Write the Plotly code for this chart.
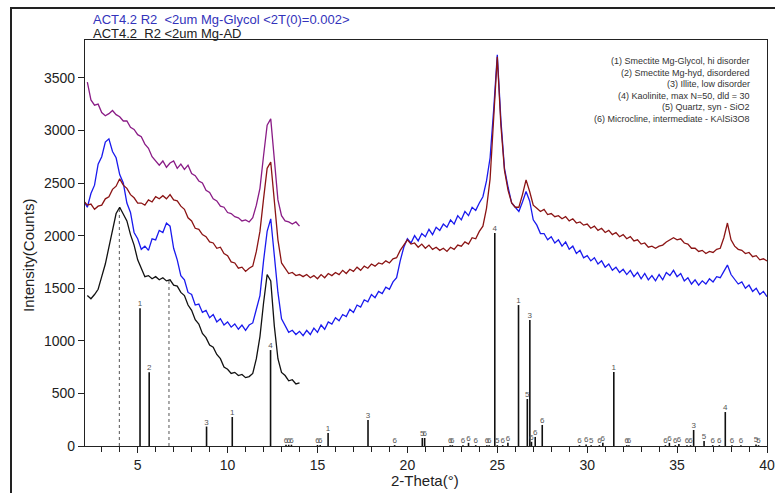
import plotly.graph_objects as go

# ---------------- data ----------------
# scan start / step (2-theta, degrees)
scan_start_long = 2.0
scan_start_short = 2.2
scan_step = 0.2

# Mg-Glycol pattern (blue), 2.0 .. 40.0
glycol_blue = [
    2330, 2270, 2400, 2480, 2680, 2750, 2890, 2920, 2800, 2740,
    2580, 2500, 2310, 2220, 2030, 1970, 1870, 1900, 1860, 1970,
    1960, 2050, 2030, 2120, 2090, 1880, 1770, 1620, 1580, 1460,
    1440, 1340, 1350, 1270, 1290, 1220, 1250, 1180, 1210, 1150,
    1180, 1130, 1160, 1110, 1150, 1100, 1150, 1170, 1300, 1430,
    1760, 2040, 2160, 1840, 1460, 1210, 1150, 1080, 1100, 1060,
    1090, 1050, 1100, 1060, 1120, 1080, 1150, 1110, 1180, 1160,
    1220, 1190, 1250, 1230, 1300, 1270, 1340, 1320, 1390, 1370,
    1440, 1410, 1470, 1450, 1510, 1490, 1560, 1600, 1760, 1890,
    1970, 1930, 2000, 1950, 2020, 1990, 2060, 2010, 2080, 2050,
    2110, 2080, 2150, 2110, 2190, 2150, 2230, 2190, 2270, 2240,
    2310, 2370, 2520, 2740, 3200, 3720, 3100, 2640, 2460, 2310,
    2270, 2230, 2320, 2420, 2330, 2150, 2100, 2020, 2020, 1960,
    1990, 1930, 1960, 1900, 1940, 1870, 1900, 1830, 1860, 1790,
    1810, 1760, 1790, 1730, 1760, 1700, 1730, 1670, 1700, 1650,
    1680, 1630, 1670, 1610, 1650, 1590, 1640, 1580, 1620, 1570,
    1630, 1580, 1650, 1620, 1670, 1610, 1640, 1570, 1600, 1540,
    1580, 1530, 1570, 1540, 1590, 1560, 1610, 1600, 1660, 1720,
    1630, 1590, 1540, 1560, 1500, 1530, 1470, 1500, 1440, 1470,
    1420,
]

# second pattern (dark red), 2.0 .. 40.0
pattern_red = [
    2330, 2290, 2300, 2250, 2280, 2290, 2350, 2370, 2440, 2470,
    2540, 2480, 2450, 2390, 2360, 2310, 2310, 2290, 2340, 2320,
    2370, 2350, 2380, 2350, 2390, 2340, 2330, 2280, 2250, 2170,
    2140, 2070, 2060, 2010, 1990, 1940, 1930, 1880, 1890, 1830,
    1810, 1750, 1740, 1690, 1700, 1660, 1690, 1710, 1850, 2040,
    2350, 2640, 2700, 2340, 1960, 1740, 1690, 1640, 1650, 1620,
    1630, 1610, 1630, 1600, 1620, 1590, 1630, 1600, 1640, 1620,
    1650, 1630, 1670, 1640, 1680, 1660, 1700, 1670, 1710, 1690,
    1730, 1710, 1740, 1730, 1760, 1740, 1780, 1790, 1860, 1910,
    1960, 1920, 1930, 1890, 1920, 1880, 1910, 1870, 1890, 1860,
    1880, 1850, 1890, 1870, 1910, 1900, 1940, 1920, 1980, 1970,
    2040, 2090, 2260, 2540, 3100, 3700, 3050, 2620, 2430, 2310,
    2270, 2270, 2390, 2530, 2420, 2290, 2260, 2230, 2250, 2200,
    2210, 2180, 2190, 2160, 2180, 2140, 2160, 2120, 2130, 2100,
    2110, 2070, 2090, 2050, 2070, 2030, 2050, 2010, 2030, 1990,
    2010, 1970, 1990, 1950, 1960, 1920, 1930, 1890, 1900, 1880,
    1900, 1910, 1940, 1960, 1980, 1960, 1970, 1930, 1920, 1880,
    1880, 1850, 1860, 1830, 1850, 1840, 1870, 1880, 1980, 2120,
    1960, 1900, 1870, 1860, 1830, 1840, 1800, 1810, 1770, 1780,
    1760,
]

# Mg-AD pattern (black), 2.2 .. 14.0
air_dry_black = [
    1430, 1400, 1440, 1490, 1610, 1730, 1890, 2040, 2210, 2270,
    2210, 2140, 2010, 1910, 1770, 1680, 1610, 1620, 1590, 1610,
    1580, 1600, 1570, 1580, 1530, 1520, 1460, 1430, 1340, 1290,
    1200, 1160, 1070, 1030, 960, 940, 870, 830, 750, 730,
    690, 700, 670, 680, 650, 660, 690, 830, 1040, 1360,
    1630, 1570, 1140, 830, 700, 670, 620, 630, 590, 600,
]

# short pattern (purple), 2.2 .. 14.0
pattern_purple = [
    3460, 3290, 3240, 3250, 3170, 3140, 3160, 3190, 3150, 3130,
    3090, 3090, 3030, 3010, 2960, 2940, 2870, 2830, 2750, 2710,
    2670, 2710, 2650, 2690, 2710, 2640, 2680, 2630, 2670, 2590,
    2570, 2520, 2500, 2430, 2410, 2350, 2330, 2280, 2270, 2220,
    2210, 2180, 2170, 2140, 2150, 2130, 2170, 2290, 2450, 2760,
    3050, 3110, 2740, 2340, 2190, 2140, 2130, 2110, 2130, 2090,
]

# reference stick pattern: positions, heights, phase labels
stick_pos = [5.13, 5.64, 8.83, 10.26, 12.39, 13.25, 13.4, 13.55, 15.0, 15.15,
             15.59, 17.81, 19.29, 20.83, 20.96, 22.38, 22.5, 23.09, 23.4, 23.8,
             24.42, 24.55, 24.86, 25.0, 25.3, 25.59, 26.18, 26.67, 26.81, 26.9,
             27.11, 27.5, 29.57, 29.94, 30.22, 30.68, 30.87, 31.48, 32.2, 32.32,
             34.35, 34.57, 34.9, 35.1, 35.55, 35.75, 35.92, 36.5, 36.98, 37.35,
             37.68, 38.05, 38.55, 39.39, 39.53]
stick_h = [1310, 700, 185, 276, 912, 12, 12, 12, 10, 10,
           124, 247, 8, 76, 76, 8, 8, 8, 30, 8,
           8, 8, 2025, 8, 8, 30, 1340, 447, 1198, 40,
           86, 200, 8, 15, 8, 8, 30, 703, 8, 8,
           8, 30, 8, 20, 8, 8, 152, 48, 8, 8,
           323, 8, 8, 15, 8]
stick_lbl = ["1", "2", "3", "1", "4", "6", "6", "6", "6", "6",
             "1", "3", "6", "5", "6", "6", "6", "6", "6", "6",
             "6", "6", "4", "5", "6", "6", "1", "5", "3", "6",
             "6", "6", "6", "6", "5", "6", "6", "1", "6", "6",
             "6", "6", "6", "6", "6", "6", "3", "5", "6", "6",
             "4", "6", "6", "5", "5"]

# dotted marker lines (peak positions of Mg-AD)
marker_pos = [3.98, 6.74]
marker_h = [2260, 1580]

phase_legend = [
    "(1) Smectite Mg-Glycol, hi disorder",
    "(2) Smectite Mg-hyd, disordered",
    "(3) Illite, low disorder",
    "(4) Kaolinite, max N=50, dld = 30",
    "(5) Quartz, syn - SiO2",
    "(6) Microcline, intermediate - KAlSi3O8",
]

x_ticks = [5, 10, 15, 20, 25, 30, 35, 40]
y_ticks = [0, 500, 1000, 1500, 2000, 2500, 3000, 3500]

# ---------------- figure ----------------
fig = go.Figure()

line_w = 1.3
fig.add_trace(go.Scatter(y=glycol_blue, x0=scan_start_long, dx=scan_step, mode="lines",
                         line=dict(color="#1a1aee", width=line_w), hoverinfo="skip"))
fig.add_trace(go.Scatter(y=pattern_red, x0=scan_start_long, dx=scan_step, mode="lines",
                         line=dict(color="#8b1414", width=line_w), hoverinfo="skip"))
fig.add_trace(go.Scatter(y=pattern_purple, x0=scan_start_short, dx=scan_step, mode="lines",
                         line=dict(color="#8a1c86", width=line_w), hoverinfo="skip"))
fig.add_trace(go.Scatter(y=air_dry_black, x0=scan_start_short, dx=scan_step, mode="lines",
                         line=dict(color="#111111", width=line_w), hoverinfo="skip"))

# sticks
sx, sy = [], []
for p, h in zip(stick_pos, stick_h):
    sx += [p, p, None]
    sy += [0, h, None]
fig.add_trace(go.Scatter(x=sx, y=sy, mode="lines", line=dict(color="#111111", width=1.6),
                         hoverinfo="skip"))
fig.add_trace(go.Scatter(x=stick_pos, y=stick_h, mode="text", text=stick_lbl,
                         textposition="top center",
                         textfont=dict(size=8, color="#555555", family="Liberation Sans"),
                         hoverinfo="skip"))

# dotted marker lines
mx, my = [], []
for p, h in zip(marker_pos, marker_h):
    mx += [p, p, None]
    my += [0, h, None]
fig.add_trace(go.Scatter(x=mx, y=my, mode="lines",
                         line=dict(color="#555555", width=1, dash="dot"), hoverinfo="skip"))

W, H = 775, 493
L, R, T, B = 85, 8, 40, 47
pw, ph = W - L - R, H - T - B


def px(x):
    return (x - L) / pw


def py(y):
    return (H - B - y) / ph


ann = [
    dict(x=px(91), y=py(19), text="ACT4.2 R2  &lt;2um Mg-Glycol &lt;2T(0)=0.002&gt;",
         font=dict(color="#3333bb", size=13)),
    dict(x=px(91), y=py(34), text="ACT4.2  R2 &lt;2um Mg-AD",
         font=dict(color="#222222", size=13)),
]
for a in ann:
    a.update(xref="paper", yref="paper", xanchor="left", yanchor="middle", showarrow=False)

leg_y = [61, 72.5, 84, 95.5, 107, 118.5]
for t, yy in zip(phase_legend, leg_y):
    ann.append(dict(x=px(752), y=py(yy), xref="paper", yref="paper", text=t,
                    xanchor="right", yanchor="middle", showarrow=False,
                    font=dict(size=9, color="#333333")))

ann.append(dict(x=px(425), y=py(480), xref="paper", yref="paper", text="2-Theta(°)",
                xanchor="center", yanchor="middle", showarrow=False,
                font=dict(size=15, color="#222222")))
ann.append(dict(x=px(28), y=py(256), xref="paper", yref="paper", text="Intensity(Counts)",
                xanchor="center", yanchor="middle", showarrow=False, textangle=-90,
                font=dict(size=15, color="#222222")))

fig.update_layout(
    width=W, height=H, autosize=False,
    margin=dict(l=L, r=R, t=T, b=B, autoexpand=False),
    paper_bgcolor="white", plot_bgcolor="white",
    showlegend=False,
    font=dict(family="Liberation Sans, Arial, sans-serif", color="#222222"),
    annotations=ann,
)
fig.update_xaxes(range=[2.07, 40.0], tickvals=x_ticks, ticks="outside", ticklen=6,
                 tickcolor="#222222", showline=True, linecolor="#222222", linewidth=1.2,
                 mirror=True, showgrid=False, zeroline=False, automargin=False,
                 ticklabeloverflow="allow",
                 tickfont=dict(size=14, color="#222222"),
                 minor=dict(dtick=1, tick0=0, ticks="outside", ticklen=5, tickcolor="#222222"))
fig.update_yaxes(range=[0, 3860], tickvals=y_ticks, ticks="outside", ticklen=6,
                 tickcolor="#222222", showline=True, linecolor="#222222", linewidth=1.2,
                 mirror=True, showgrid=False, zeroline=False, automargin=False,
                 tickfont=dict(size=14, color="#222222"))

# page tweaks: no body margin, and the outer image frame (top and left edges)
post = (
    "document.body.style.margin='0';"
    "document.body.style.overflow='hidden';"
    "var fr=document.createElement('div');"
    "fr.style.cssText='position:absolute;left:10px;top:7px;width:900px;height:700px;"
    "border-left:2px solid #222;border-top:2px solid #222;pointer-events:none;z-index:10;';"
    "document.body.appendChild(fr);"
)

fig.write_html("out.html", config={"displayModeBar": False}, post_script=post)
